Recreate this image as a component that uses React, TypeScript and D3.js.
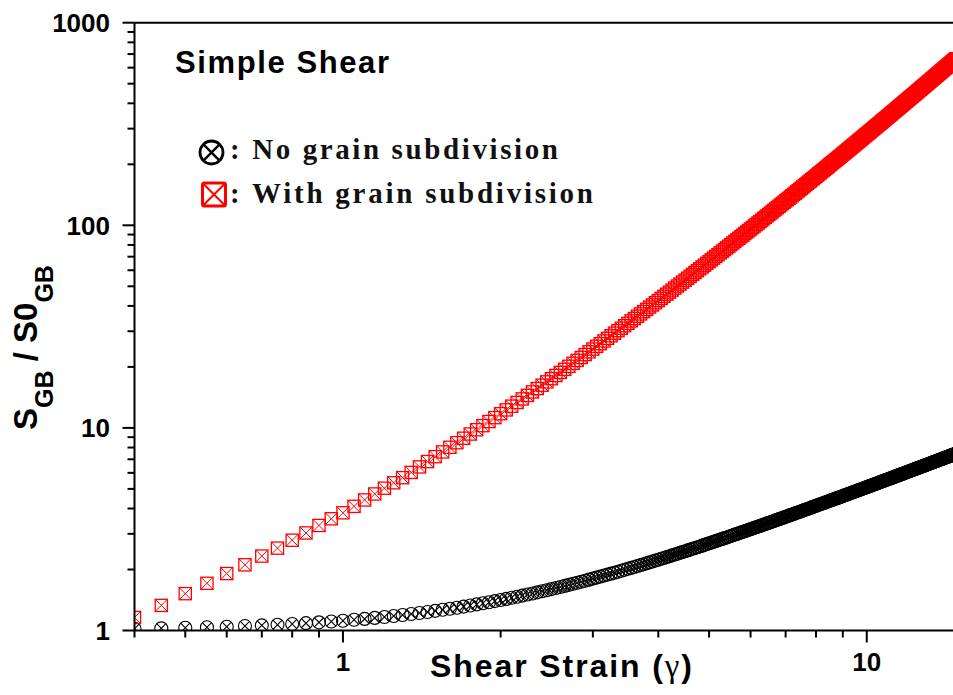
import React from "react";
import * as d3 from "d3";

// Shear strain values (x) shared by both series
const strain = [
  0.4, 0.45, 0.5, 0.55, 0.6, 0.65, 0.7, 0.75, 0.8, 0.85, 0.9, 0.95, 1, 1.05, 1.1, 1.15, 1.2, 1.25, 1.3, 1.35,
  1.4, 1.45, 1.5, 1.55, 1.6, 1.65, 1.7, 1.75, 1.8, 1.85, 1.9, 1.95, 2, 2.05, 2.1, 2.15, 2.2, 2.25, 2.3, 2.35,
  2.4, 2.45, 2.5, 2.55, 2.6, 2.65, 2.7, 2.75, 2.8, 2.85, 2.9, 2.95, 3, 3.05, 3.1, 3.15, 3.2, 3.25, 3.3, 3.35,
  3.4, 3.45, 3.5, 3.55, 3.6, 3.65, 3.7, 3.75, 3.8, 3.85, 3.9, 3.95, 4, 4.05, 4.1, 4.15, 4.2, 4.25, 4.3, 4.35,
  4.4, 4.45, 4.5, 4.55, 4.6, 4.65, 4.7, 4.75, 4.8, 4.85, 4.9, 4.95, 5, 5.05, 5.1, 5.15, 5.2, 5.25, 5.3, 5.35,
  5.4, 5.45, 5.5, 5.55, 5.6, 5.65, 5.7, 5.75, 5.8, 5.85, 5.9, 5.95, 6, 6.05, 6.1, 6.15, 6.2, 6.25, 6.3, 6.35,
  6.4, 6.45, 6.5, 6.55, 6.6, 6.65, 6.7, 6.75, 6.8, 6.85, 6.9, 6.95, 7, 7.05, 7.1, 7.15, 7.2, 7.25, 7.3, 7.35,
  7.4, 7.45, 7.5, 7.55, 7.6, 7.65, 7.7, 7.75, 7.8, 7.85, 7.9, 7.95, 8, 8.05, 8.1, 8.15, 8.2, 8.25, 8.3, 8.35,
  8.4, 8.45, 8.5, 8.55, 8.6, 8.65, 8.7, 8.75, 8.8, 8.85, 8.9, 8.95, 9, 9.05, 9.1, 9.15, 9.2, 9.25, 9.3, 9.35,
  9.4, 9.45, 9.5, 9.55, 9.6, 9.65, 9.7, 9.75, 9.8, 9.85, 9.9, 9.95, 10, 10.05, 10.1, 10.15, 10.2, 10.25, 10.3, 10.35,
  10.4, 10.45, 10.5, 10.55, 10.6, 10.65, 10.7, 10.75, 10.8, 10.85, 10.9, 10.95, 11, 11.05, 11.1, 11.15, 11.2, 11.25, 11.3, 11.35,
  11.4, 11.45, 11.5, 11.55, 11.6, 11.65, 11.7, 11.75, 11.8, 11.85, 11.9, 11.95, 12, 12.05, 12.1, 12.15, 12.2, 12.25, 12.3, 12.35,
  12.4, 12.45, 12.5, 12.55, 12.6, 12.65, 12.7, 12.75, 12.8, 12.85, 12.9, 12.95, 13, 13.05, 13.1, 13.15, 13.2, 13.25, 13.3, 13.35,
  13.4, 13.45, 13.5, 13.55, 13.6, 13.65, 13.7, 13.75, 13.8, 13.85, 13.9, 13.95, 14, 14.05, 14.1, 14.15, 14.2, 14.25, 14.3, 14.35,
  14.4, 14.45, 14.5, 14.55, 14.6, 14.65, 14.7, 14.75, 14.8,
];

// S_GB / S0_GB, no grain subdivision (black circles)
const noSubdivision = [
  1.02, 1.025, 1.031, 1.037, 1.044, 1.052, 1.06, 1.068, 1.077, 1.087, 1.097, 1.107, 1.118, 1.129, 1.141, 1.154, 1.166, 1.179, 1.193, 1.207,
  1.221, 1.235, 1.25, 1.265, 1.281, 1.296, 1.312, 1.329, 1.345, 1.362, 1.379, 1.397, 1.414, 1.432, 1.45, 1.468, 1.487, 1.505, 1.524, 1.543,
  1.562, 1.581, 1.601, 1.62, 1.64, 1.66, 1.68, 1.7, 1.72, 1.741, 1.761, 1.782, 1.803, 1.824, 1.845, 1.866, 1.887, 1.908, 1.929, 1.951,
  1.972, 1.994, 2.016, 2.037, 2.059, 2.081, 2.103, 2.125, 2.147, 2.17, 2.192, 2.214, 2.236, 2.259, 2.281, 2.304, 2.326, 2.349, 2.371, 2.394,
  2.417, 2.44, 2.462, 2.485, 2.508, 2.531, 2.554, 2.577, 2.6, 2.623, 2.646, 2.67, 2.693, 2.716, 2.739, 2.763, 2.786, 2.809, 2.832, 2.856,
  2.879, 2.903, 2.926, 2.95, 2.973, 2.997, 3.02, 3.044, 3.068, 3.092, 3.115, 3.139, 3.162, 3.186, 3.21, 3.234, 3.257, 3.281, 3.305, 3.329,
  3.353, 3.377, 3.4, 3.424, 3.448, 3.472, 3.496, 3.52, 3.544, 3.568, 3.592, 3.616, 3.64, 3.664, 3.688, 3.712, 3.736, 3.761, 3.785, 3.809,
  3.833, 3.857, 3.881, 3.905, 3.929, 3.954, 3.978, 4.002, 4.026, 4.051, 4.075, 4.099, 4.123, 4.148, 4.172, 4.196, 4.22, 4.245, 4.269, 4.293,
  4.317, 4.342, 4.366, 4.391, 4.415, 4.439, 4.463, 4.488, 4.512, 4.537, 4.561, 4.586, 4.61, 4.635, 4.659, 4.683, 4.707, 4.732, 4.756, 4.781,
  4.805, 4.83, 4.854, 4.879, 4.903, 4.928, 4.952, 4.977, 5.001, 5.026, 5.05, 5.075, 5.099, 5.124, 5.148, 5.173, 5.197, 5.222, 5.246, 5.271,
  5.295, 5.32, 5.344, 5.369, 5.394, 5.419, 5.443, 5.468, 5.492, 5.517, 5.541, 5.566, 5.59, 5.615, 5.639, 5.664, 5.689, 5.714, 5.738, 5.763,
  5.787, 5.812, 5.836, 5.861, 5.886, 5.911, 5.935, 5.96, 5.984, 6.009, 6.034, 6.059, 6.083, 6.108, 6.132, 6.157, 6.181, 6.206, 6.231, 6.256,
  6.28, 6.305, 6.33, 6.355, 6.379, 6.404, 6.428, 6.453, 6.478, 6.503, 6.527, 6.552, 6.577, 6.602, 6.626, 6.651, 6.675, 6.7, 6.725, 6.75,
  6.774, 6.799, 6.824, 6.849, 6.873, 6.898, 6.923, 6.948, 6.972, 6.997, 7.022, 7.047, 7.071, 7.096, 7.121, 7.146, 7.17, 7.195, 7.22, 7.245,
  7.269, 7.294, 7.319, 7.344, 7.368, 7.393, 7.418, 7.443, 7.467,
];

// S_GB / S0_GB, with grain subdivision (red squares)
const withSubdivision = [
  1.16, 1.33, 1.52, 1.71, 1.91, 2.11, 2.33, 2.55, 2.79, 3.03, 3.3, 3.56, 3.81, 4.1, 4.41, 4.72, 5.04, 5.36, 5.68, 6.03,
  6.42, 6.82, 7.21, 7.61, 8.02, 8.45, 8.89, 9.33, 9.79, 10.26, 10.75, 11.24, 11.75, 12.27, 12.8, 13.35, 13.9, 14.47, 15.05, 15.64,
  16.25, 16.87, 17.5, 18.14, 18.79, 19.46, 20.14, 20.84, 21.54, 22.26, 23.0, 23.74, 24.5, 25.28, 26.05, 26.86, 27.66, 28.5, 29.34, 30.2,
  31.05, 31.94, 32.82, 33.74, 34.65, 35.59, 36.53, 37.5, 38.47, 39.47, 40.46, 41.49, 42.51, 43.57, 44.62, 45.7, 46.78, 47.89, 48.99, 50.13,
  51.27, 52.44, 53.6, 54.8, 56.0, 57.23, 58.46, 59.72, 60.97, 62.26, 63.55, 64.87, 66.18, 67.53, 68.87, 70.25, 71.62, 73.03, 74.44, 75.88,
  77.31, 78.78, 80.25, 81.75, 83.25, 84.78, 86.31, 87.87, 89.43, 91.03, 92.62, 94.25, 95.87, 97.53, 99.18, 100.9, 102.6, 104.3, 106.0, 107.8,
  109.5, 111.3, 113.1, 114.9, 116.7, 118.6, 120.4, 122.3, 124.2, 126.1, 128.0, 130.0, 131.9, 133.9, 135.9, 137.9, 139.9, 142.0, 144.0, 146.1,
  148.2, 150.3, 152.5, 154.6, 156.8, 159.0, 161.2, 163.4, 165.6, 167.8, 170.1, 172.4, 174.7, 177.0, 179.4, 181.7, 184.1, 186.5, 188.9, 191.3,
  193.7, 196.2, 198.7, 201.2, 203.7, 206.2, 208.8, 211.3, 213.9, 216.5, 219.1, 221.7, 224.4, 227.1, 229.8, 232.5, 235.2, 237.9, 240.7, 243.5,
  246.3, 249.1, 252.0, 254.8, 257.7, 260.6, 263.5, 266.4, 269.4, 272.4, 275.4, 278.4, 281.4, 284.4, 287.5, 290.6, 293.7, 296.8, 299.9, 303.0,
  306.2, 309.4, 312.7, 315.9, 319.2, 322.4, 325.7, 329.0, 332.4, 335.7, 339.1, 342.5, 345.9, 349.3, 352.8, 356.2, 359.7, 363.2, 366.7, 370.2,
  373.8, 377.4, 381.0, 384.6, 388.3, 392.0, 395.7, 399.4, 403.1, 406.8, 410.6, 414.4, 418.2, 422.0, 425.9, 429.7, 433.6, 437.5, 441.4, 445.3,
  449.3, 453.3, 457.3, 461.3, 465.4, 469.4, 473.5, 477.6, 481.8, 485.9, 490.1, 494.3, 498.5, 502.7, 507.0, 511.2, 515.5, 519.8, 524.2, 528.5,
  532.9, 537.3, 541.7, 546.1, 550.6, 555.1, 559.6, 564.2, 568.9, 573.4, 578.0, 582.6, 587.3, 591.9, 596.6, 601.3, 606.0, 610.7, 615.5, 620.3,
  625.1, 629.9, 634.7, 639.6, 644.5, 649.4, 654.3, 659.2, 664.2,
];

const xMajorTicks = [1, 10];
const xMinorTicks = [0.4, 0.5, 0.6, 0.7, 0.8, 0.9, 2, 3, 4, 5, 6, 7, 8, 9];
const yMajorTicks = [1, 10, 100, 1000];
const yMinorTicks = [2, 3, 4, 5, 6, 7, 8, 9, 20, 30, 40, 50, 60, 70, 80, 90, 200, 300, 400, 500, 600, 700, 800, 900];

const xDomain = [0.4, 15];
const yDomain = [1, 1000];

const W = 953;
const H = 695;
const left = 134.5;
const right = 959;
const top = 22.7;
const bottom = 630.5;

const SANS = "'Liberation Sans', Arial, Helvetica, sans-serif";
const SERIF = "'Liberation Serif', 'Times New Roman', Times, serif";

export default function App() {
  const x = d3.scaleLog().domain(xDomain).range([left, right]);
  const y = d3.scaleLog().domain(yDomain).range([bottom, top]);
  const fmt = (v: number) => String(v);

  const circleR = 6.5;
  const cx = circleR * Math.SQRT1_2;
  const sq = 6.1;

  const lc = { x: 211.5, y: 152.5 };
  const ls = { x: 214, y: 194.5, h: 11.5 };

  return (
    <svg width={W} height={H} style={{ position: "absolute", left: 0, top: 0, background: "#fff" }}>
      <defs>
        <clipPath id="plotArea">
          <rect x={left} y={top} width={W - left + 20} height={bottom - top} />
        </clipPath>
      </defs>

      <g clipPath="url(#plotArea)">
        {strain.map((g, i) => (
          <g key={"b" + i} transform={`translate(${x(g)},${y(noSubdivision[i])})`} fill="none" stroke="#000" strokeWidth={1.1}>
            <circle r={circleR} />
            <path d={`M${-cx},${-cx}L${cx},${cx}M${cx},${-cx}L${-cx},${cx}`} />
          </g>
        ))}
        {strain.map((g, i) => (
          <g key={"r" + i} transform={`translate(${x(g)},${y(withSubdivision[i])})`} fill="none" stroke="#ff0000" strokeWidth={1.3}>
            <rect x={-sq} y={-sq} width={2 * sq} height={2 * sq} />
            <path d={`M${-sq},${-sq}L${sq},${sq}M${sq},${-sq}L${-sq},${sq}`} strokeWidth={1} />
          </g>
        ))}
      </g>

      {/* axes frame */}
      <g stroke="#000" strokeWidth={2} fill="none">
        <line x1={left} y1={top} x2={W} y2={top} />
        <line x1={left} y1={top} x2={left} y2={bottom} />
        <line x1={left} y1={bottom} x2={W} y2={bottom} />
        {yMajorTicks.map((t) => (
          <line key={"ym" + t} x1={left - 12} x2={left} y1={y(t)} y2={y(t)} />
        ))}
        {yMinorTicks.map((t) => (
          <line key={"yn" + t} x1={left - 7} x2={left} y1={y(t)} y2={y(t)} />
        ))}
        {xMajorTicks.map((t) => (
          <line key={"xm" + t} x1={x(t)} x2={x(t)} y1={bottom} y2={bottom + 12} />
        ))}
        {xMinorTicks.map((t) => (
          <line key={"xn" + t} x1={x(t)} x2={x(t)} y1={bottom} y2={bottom + 7} />
        ))}
      </g>

      {/* tick labels */}
      <g fontFamily={SANS} fontWeight="bold" fontSize={26} fill="#000">
        {yMajorTicks.map((t) => (
          <text key={"yl" + t} x={110} y={y(t) + 9.3} textAnchor="end">
            {fmt(t)}
          </text>
        ))}
        {xMajorTicks.map((t) => (
          <text key={"xl" + t} x={x(t)} y={671} textAnchor="middle">
            {fmt(t)}
          </text>
        ))}
      </g>

      {/* axis titles */}
      <text x={430} y={677} fontFamily={SANS} fontWeight="bold" fontSize={32} textLength={262} lengthAdjust="spacing">
        Shear Strain (<tspan fontFamily={SERIF} fontWeight="normal" fontSize={33}>γ</tspan>)
      </text>
      <text transform="translate(37,430) rotate(-90)" fontFamily={SANS} fontWeight="bold" fontSize={33}>
        S
        <tspan fontSize={25} dy={16}>GB</tspan>
        <tspan dy={-16}> / S0</tspan>
        <tspan fontSize={25} dy={16}>GB</tspan>
      </text>

      {/* title */}
      <text x={175} y={73} fontFamily={SANS} fontWeight="bold" fontSize={31} textLength={214} lengthAdjust="spacing">
        Simple Shear
      </text>

      {/* legend */}
      <g fill="none" stroke="#000">
        <circle cx={lc.x} cy={lc.y} r={11.5} strokeWidth={2.8} />
        <path
          d={`M${lc.x - 8.1},${lc.y - 8.1}L${lc.x + 8.1},${lc.y + 8.1}M${lc.x + 8.1},${lc.y - 8.1}L${lc.x - 8.1},${lc.y + 8.1}`}
          strokeWidth={2.4}
        />
      </g>
      <g fill="none" stroke="#ff0000">
        <rect x={ls.x - ls.h} y={ls.y - ls.h} width={2 * ls.h} height={2 * ls.h} rx={2} strokeWidth={3} />
        <path
          d={`M${ls.x - ls.h},${ls.y - ls.h}L${ls.x + ls.h},${ls.y + ls.h}M${ls.x + ls.h},${ls.y - ls.h}L${ls.x - ls.h},${ls.y + ls.h}`}
          strokeWidth={2}
        />
      </g>
      <g fontFamily={SERIF} fontWeight="bold" fontSize={29} fill="#111">
        <text x={230} y={159} textLength={328} lengthAdjust="spacing">
          : No grain subdivision
        </text>
        <text x={230} y={203} textLength={363} lengthAdjust="spacing">
          : With grain subdivision
        </text>
      </g>
    </svg>
  );
}
